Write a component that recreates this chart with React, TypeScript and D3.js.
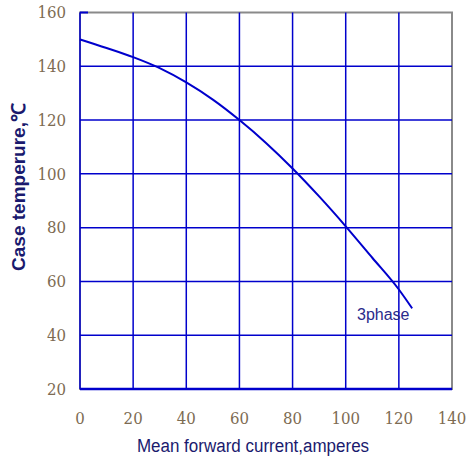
import React from "react";
import * as d3 from "d3";

const currentX = [0, 10, 20, 30, 40, 50, 60, 70, 80, 90, 100, 110, 120, 125];
const caseTemp = [150, 146.8, 143.4, 139.3, 134, 127.6, 120, 111.5, 102, 91.6, 80.5, 68.8, 57, 50];
const xTicks = [0, 20, 40, 60, 80, 100, 120, 140];
const yTicks = [20, 40, 60, 80, 100, 120, 140, 160];
const seriesLabel = "3phase";
const xTitle = "Mean forward current,amperes";
const yTitle = "Case temperure,\u2103";

export default function App() {
  const W = 467, H = 464;
  const x = d3.scaleLinear().domain([0, 140]).range([80, 452]);
  const y = d3.scaleLinear().domain([20, 160]).range([389, 12.5]);
  const pts: [number, number][] = currentX.map((v, i) => [v, caseTemp[i]]);
  const line = d3.line<[number, number]>().x(d => x(d[0])).y(d => y(d[1])).curve(d3.curveMonotoneX);
  const grid = "#0000cc";
  const tickColor = "#7d6b52";
  const serif = "'DejaVu Serif', serif";
  const sans = "'Liberation Sans', Arial, sans-serif";
  return (
    <svg width={W} height={H} style={{ position: "absolute", left: 0, top: 0 }}>
      <rect width={W} height={H} fill="#fff" />
      <rect x={x(0)} y={y(160)} width={x(140) - x(0)} height={y(20) - y(160)} fill="none" stroke="#8a8a8a" strokeWidth={2} />
      {xTicks.slice(0, -1).map(t => (
        <line key={"vx" + t} x1={x(t)} x2={x(t)} y1={y(160)} y2={y(20)} stroke={grid} strokeWidth={1.5} />
      ))}
      {yTicks.slice(0, -1).map(t => (
        <line key={"hy" + t} x1={x(0)} x2={x(140)} y1={y(t)} y2={y(t)} stroke={grid} strokeWidth={t === 20 ? 2.5 : 1.5} />
      ))}
      <line x1={x(0)} x2={x(0) + 8} y1={y(160)} y2={y(160)} stroke={grid} strokeWidth={2} />
      <path d={line(pts) || ""} fill="none" stroke={grid} strokeWidth={2} />
      <text x={357} y={320} fontFamily={sans} fontSize={16} fill="#2a2a8a">{seriesLabel}</text>
      {yTicks.map(t => (
        <text key={"yl" + t} x={66} y={y(t)} dy="0.35em" textAnchor="end" fontFamily={serif} fontSize={15} fill={tickColor} transform={`translate(0,${y(t) * -0.1}) scale(1,1.1)`}>{t}</text>
      ))}
      {xTicks.map(t => (
        <text key={"xl" + t} x={x(t)} y={418} dy="0.35em" textAnchor="middle" fontFamily={serif} fontSize={15} fill={tickColor} transform={`translate(0,${418 * -0.1}) scale(1,1.1)`}>{t}</text>
      ))}
      <text transform="translate(253,452) scale(1,1.12)" textAnchor="middle" fontFamily={sans} fontSize={17} fill="#1a1a6e">{xTitle}</text>
      <text transform="translate(25,187) rotate(-90)" textAnchor="middle" fontFamily={sans} fontSize={19} fontWeight="bold" fill="#1a1a6e">{yTitle}</text>
    </svg>
  );
}
